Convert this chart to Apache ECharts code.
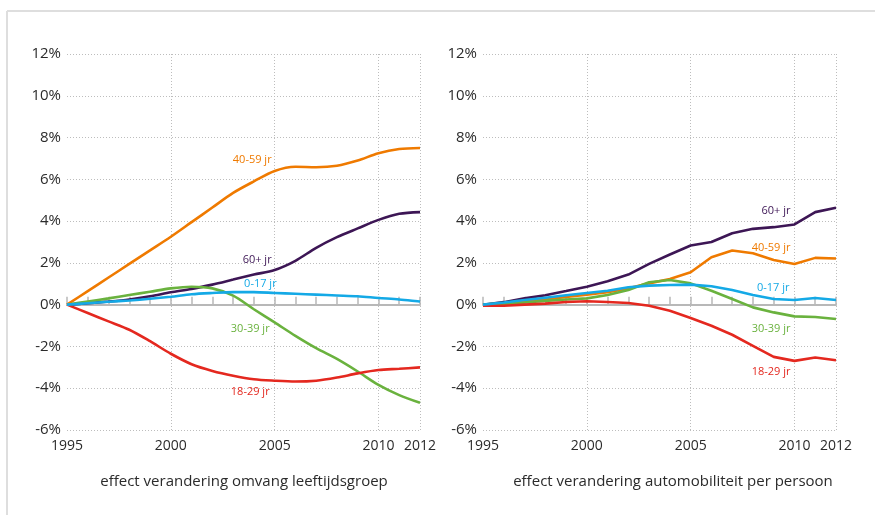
<!DOCTYPE html>
<html>
<head>
<meta charset="utf-8">
<script src="https://cdn.jsdelivr.net/npm/echarts@6/dist/echarts.min.js"></script>
<style>
  html, body { margin: 0; padding: 0; background: #fff; }
  #chart { width: 875px; height: 515px; }
</style>
</head>
<body>
<div id="chart"></div>
<script>
const years = [1995, 1996, 1997, 1998, 1999, 2000, 2001, 2002, 2003, 2004, 2005, 2006, 2007, 2008, 2009, 2010, 2011, 2012];
const yearLabels = [1995, 2000, 2005, 2010, 2012];

// effect verandering omvang leeftijdsgroep (%)
const left0to17 = [0, 0.07, 0.14, 0.2, 0.28, 0.38, 0.5, 0.56, 0.6, 0.6, 0.56, 0.52, 0.48, 0.44, 0.4, 0.32, 0.25, 0.15];
const left18to29 = [0, -0.4, -0.8, -1.2, -1.75, -2.35, -2.85, -3.17, -3.4, -3.57, -3.64, -3.68, -3.64, -3.49, -3.29, -3.13, -3.07, -3.0];
const left30to39 = [0, 0.15, 0.3, 0.46, 0.62, 0.78, 0.86, 0.78, 0.43, -0.22, -0.85, -1.49, -2.08, -2.6, -3.2, -3.84, -4.33, -4.7];
const left40to59 = [0, 0.65, 1.3, 1.95, 2.6, 3.25, 3.95, 4.65, 5.35, 5.9, 6.4, 6.6, 6.58, 6.65, 6.9, 7.25, 7.45, 7.5];
const left60plus = [0, 0.07, 0.15, 0.25, 0.4, 0.59, 0.75, 0.96, 1.2, 1.44, 1.66, 2.1, 2.72, 3.23, 3.65, 4.06, 4.35, 4.43];

// effect verandering automobiliteit per persoon (%)
const right0to17 = [0, 0.1, 0.22, 0.33, 0.45, 0.56, 0.67, 0.83, 0.91, 0.94, 0.96, 0.88, 0.7, 0.46, 0.27, 0.22, 0.32, 0.22];
const right18to29 = [-0.05, -0.05, 0, 0.05, 0.13, 0.16, 0.13, 0.08, -0.05, -0.29, -0.64, -1.01, -1.44, -1.97, -2.5, -2.69, -2.53, -2.66];
const right30to39 = [0, 0.05, 0.1, 0.18, 0.25, 0.3, 0.46, 0.7, 1.07, 1.18, 1.02, 0.67, 0.27, -0.13, -0.37, -0.56, -0.59, -0.69];
const right40to59 = [0, 0.05, 0.15, 0.25, 0.37, 0.48, 0.6, 0.78, 1.02, 1.23, 1.55, 2.27, 2.59, 2.46, 2.14, 1.95, 2.24, 2.21];
const right60plus = [0, 0.12, 0.3, 0.45, 0.65, 0.86, 1.12, 1.44, 1.95, 2.4, 2.83, 3.0, 3.42, 3.63, 3.71, 3.84, 4.43, 4.64];

const colors = {
  "0-17 jr": "#14a9e6",
  "18-29 jr": "#e4281f",
  "30-39 jr": "#6ab23e",
  "40-59 jr": "#ef7a00",
  "60+ jr": "#3d1655",
};

const FONT = "'Open Sans', sans-serif";
const grid = "#bdbdbd";

// where the in-chart group labels sit: anchor year, horizontal distance, vertical offset
const leftLabelPos = {
  "40-59 jr": [2005, 3, -11],
  "60+ jr": [2005, 3, -10],
  "0-17 jr": [2005, -2, -9],
  "30-39 jr": [2005, 5, 6],
  "18-29 jr": [2005, 5, 11],
};
const rightLabelPos = {
  "60+ jr": [2010, 4, -14],
  "40-59 jr": [2010, 4, -16],
  "0-17 jr": [2010, 5, -12],
  "30-39 jr": [2010, 4, 12],
  "18-29 jr": [2010, 4, 11],
};

function xAxes(gridIndex) {
  return [
    {
      gridIndex, type: "value", min: 1995, max: 2012, interval: 1,
      axisLine: { onZero: true, lineStyle: { color: "#b8b8b8", width: 2 } },
      axisTick: { inside: true, length: 8, lineStyle: { color: "#b8b8b8", width: 1.5 } },
      axisLabel: { show: false },
      splitLine: { show: false },
    },
    {
      gridIndex, type: "value", min: 1995, max: 2012, interval: 5, position: "bottom",
      axisLine: { show: false, onZero: false },
      axisTick: { show: false },
      axisLabel: {
        color: "#2b2b2b", fontSize: 14, fontFamily: FONT, margin: 9,
        customValues: yearLabels, formatter: (v) => String(v),
      },
      splitLine: {
        show: true, showMinLine: false, showMaxLine: true,
        lineStyle: { color: grid, type: [1, 2], width: 1 },
      },
    },
  ];
}

function yAxis(gridIndex) {
  return {
    gridIndex, type: "value", min: -6, max: 12, interval: 2,
    axisLine: { show: false }, axisTick: { show: false },
    axisLabel: { color: "#2b2b2b", fontSize: 15, fontFamily: FONT, margin: 6, formatter: "{value}%" },
    splitLine: { lineStyle: { color: grid, type: [1, 2], width: 1 } },
  };
}

function makeSeries(name, values, gridIndex, smooth, labelPos) {
  const [ly, dist, dy] = labelPos[name];
  const idx = years.indexOf(ly);
  return {
    name, type: "line",
    xAxisIndex: gridIndex * 2, yAxisIndex: gridIndex,
    data: years.map((y, i) => [y, values[i]]),
    showSymbol: false, symbol: "none", smooth,
    lineStyle: { color: colors[name], width: 2.6 },
    itemStyle: { color: colors[name] },
    z: 3,
    markPoint: {
      symbol: "circle", symbolSize: 0, silent: true,
      data: [{ coord: [ly, values[idx]] }],
      label: {
        show: true, position: "left", distance: dist, offset: [0, dy],
        formatter: name, color: colors[name], fontSize: 11, fontFamily: FONT,
      },
    },
  };
}

const order = ["60+ jr", "40-59 jr", "30-39 jr", "18-29 jr", "0-17 jr"];
const leftData = { "0-17 jr": left0to17, "18-29 jr": left18to29, "30-39 jr": left30to39, "40-59 jr": left40to59, "60+ jr": left60plus };
const rightData = { "0-17 jr": right0to17, "18-29 jr": right18to29, "30-39 jr": right30to39, "40-59 jr": right40to59, "60+ jr": right60plus };

const series = [
  ...order.map((n) => makeSeries(n, leftData[n], 0, 0.3, leftLabelPos)),
  ...order.map((n) => makeSeries(n, rightData[n], 1, false, rightLabelPos)),
];

const chart = echarts.init(document.getElementById("chart"), null, { renderer: "canvas" });
chart.setOption({
  animation: false,
  textStyle: { fontFamily: FONT },
  grid: [
    { left: 67, width: 353, top: 54, height: 376 },
    { left: 483, width: 353, top: 54, height: 376 },
  ],
  xAxis: [...xAxes(0), ...xAxes(1)],
  yAxis: [yAxis(0), yAxis(1)],
  series,
  graphic: [
    { type: "line", shape: { x1: 7, y1: 11, x2: 875, y2: 11 }, style: { stroke: "#dedede", lineWidth: 2 } },
    { type: "line", shape: { x1: 7, y1: 11, x2: 7, y2: 515 }, style: { stroke: "#dedede", lineWidth: 2 } },
    {
      type: "text", x: 244, y: 482,
      style: { text: "effect verandering omvang leeftijdsgroep", fill: "#2b2b2b", font: "15px " + FONT, align: "center", verticalAlign: "middle" },
    },
    {
      type: "text", x: 673, y: 482,
      style: { text: "effect verandering automobiliteit per persoon", fill: "#2b2b2b", font: "15px " + FONT, align: "center", verticalAlign: "middle" },
    },
  ],
});
</script>
</body>
</html>
